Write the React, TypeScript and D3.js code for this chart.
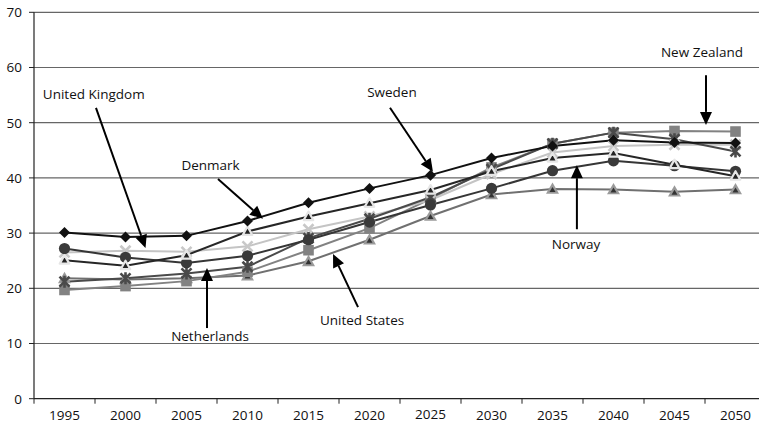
import React from "react";
import * as d3 from "d3";

const years = [1995, 2000, 2005, 2010, 2015, 2020, 2025, 2030, 2035, 2040, 2045, 2050];
const yTicks = [0, 10, 20, 30, 40, 50, 60, 70];

const sweden = [30.1, 29.3, 29.5, 32.2, 35.5, 38.1, 40.5, 43.6, 45.8, 46.8, 46.4, 46.3];
const denmark = [25.1, 24.1, 26.0, 30.3, 33.0, 35.4, 37.8, 41.2, 43.6, 44.5, 42.4, 40.3];
const norway = [27.2, 25.6, 24.6, 25.9, 28.8, 32.0, 35.1, 38.1, 41.3, 43.1, 42.2, 41.2];
const unitedKingdom = [26.5, 26.8, 26.6, 27.6, 30.7, 33.0, 36.0, 40.7, 44.6, 45.8, 46.0, 46.0];
const netherlands = [21.2, 21.8, 22.7, 23.9, 29.1, 32.6, 36.5, 41.6, 46.2, 48.2, 47.0, 44.8];
const newZealand = [19.7, 20.4, 21.3, 23.0, 26.9, 30.9, 36.2, 41.9, 46.2, 48.2, 48.5, 48.4];
const unitedStates = [21.8, 21.6, 21.8, 22.3, 24.9, 28.8, 33.1, 37.0, 38.0, 37.9, 37.5, 37.9];

type Marker = "diamond" | "circle" | "smalltri" | "x" | "asterisk" | "square" | "tri";

const series: { name: string; values: number[]; color: string; marker: Marker }[] = [
  { name: "United States", values: unitedStates, color: "#707070", marker: "tri" },
  { name: "New Zealand", values: newZealand, color: "#828282", marker: "square" },
  { name: "United Kingdom", values: unitedKingdom, color: "#c4c4c4", marker: "x" },
  { name: "Netherlands", values: netherlands, color: "#4a4a4a", marker: "asterisk" },
  { name: "Norway", values: norway, color: "#363636", marker: "circle" },
  { name: "Denmark", values: denmark, color: "#262626", marker: "smalltri" },
  { name: "Sweden", values: sweden, color: "#111111", marker: "diamond" },
];

// annotations in data coordinates: [year, value]
const annotations = [
  { text: "United Kingdom", label: [1997.4, 55.1], tail: [1997.58, 52.7], tip: [2001.64, 27.3] },
  { text: "Denmark", label: [2006.97, 42.3], tail: [2007.58, 39.8], tip: [2011.27, 32.6] },
  { text: "Sweden", label: [2021.84, 55.6], tail: [2021.68, 52.7], tip: [2025.2, 41.1] },
  { text: "New Zealand", label: [2047.25, 62.8], tail: [2047.58, 58.6], tip: [2047.58, 49.6] },
  { text: "Norway", label: [2036.93, 28.0], tail: [2037.0, 30.7], tip: [2037.0, 42.3] },
  { text: "Netherlands", label: [2006.93, 11.4], tail: [2006.68, 12.8], tip: [2006.68, 23.7] },
  { text: "United States", label: [2019.39, 14.3], tail: [2019.06, 16.6], tip: [2017.01, 26.2] },
];

const W = 759;
const H = 426;
const left = 34;
const right = 766;
const top = 12.3;
const bottom = 398.7;
const FONT = "'Open Sans', sans-serif";

function MarkerShape({ type, x, y }: { type: Marker; x: number; y: number }) {
  switch (type) {
    case "diamond": {
      const s = 5.5;
      return <path d={`M${x},${y - s}L${x + s},${y}L${x},${y + s}L${x - s},${y}Z`} fill="#111" />;
    }
    case "circle":
      return <circle cx={x} cy={y} r={5.6} fill="#3a3a3a" />;
    case "smalltri": {
      const s = 5;
      return (
        <path
          d={`M${x},${y - s}L${x + s * 0.95},${y + s * 0.7}L${x - s * 0.95},${y + s * 0.7}Z`}
          fill="#222"
          stroke="#e6e6e6"
          strokeWidth={2.2}
          strokeLinejoin="round"
        />
      );
    }
    case "x": {
      const s = 5;
      return (
        <path
          d={`M${x - s},${y - s}L${x + s},${y + s}M${x - s},${y + s}L${x + s},${y - s}`}
          stroke="#c8c8c8"
          strokeWidth={2.6}
        />
      );
    }
    case "asterisk": {
      const s = 5;
      return (
        <path
          d={`M${x - s},${y - s}L${x + s},${y + s}M${x - s},${y + s}L${x + s},${y - s}M${x},${y - s - 1}L${x},${y + s + 1}`}
          stroke="#4a4a4a"
          strokeWidth={2.6}
        />
      );
    }
    case "square": {
      const s = 5.3;
      return <rect x={x - s} y={y - s} width={2 * s} height={2 * s} fill="#828282" />;
    }
    case "tri": {
      const s = 6.5;
      const t = 3;
      return (
        <g>
          <path d={`M${x},${y - s}L${x + s},${y + s * 0.75}L${x - s},${y + s * 0.75}Z`} fill="#9a9a9a" />
          <path d={`M${x},${y - t + 1}L${x + t},${y + t}L${x - t},${y + t}Z`} fill="#333" />
        </g>
      );
    }
  }
  return null;
}

export default function App() {
  const xBand = d3.scaleBand<number>().domain(years).range([left, right]).padding(0);
  const xc = (yr: number) => (xBand(yr) as number) + xBand.bandwidth() / 2;
  const xLin = d3.scaleLinear().domain([1995, 2050]).range([xc(1995), xc(2050)]);
  const y = d3.scaleLinear().domain([0, 70]).range([bottom, top]);

  const line = d3
    .line<number>()
    .x((_, i) => xc(years[i]))
    .y((v) => y(v));

  const boundaries = years.map((yr) => xBand(yr) as number).concat([right]);

  return (
    <div style={{ position: "absolute", left: 0, top: 0 }}>
      <svg width={W} height={H} style={{ display: "block", background: "#fff" }}>
        {yTicks.map((t) => (
          <g key={t}>
            {t > 0 && (
              <line x1={left} x2={right} y1={y(t)} y2={y(t)} stroke="#666" strokeWidth={1.2} />
            )}
            <line x1={left - 5} x2={left} y1={y(t)} y2={y(t)} stroke="#222" strokeWidth={1} />
            <text
              x={22}
              y={y(t)}
              dy="0.36em"
              textAnchor="end"
              fontFamily={FONT}
              fontSize={13.5}
              fill="#111"
            >
              {t}
            </text>
          </g>
        ))}
        <line x1={left} x2={left} y1={top} y2={bottom} stroke="#222" strokeWidth={1.2} />
        <line x1={left} x2={right} y1={bottom} y2={bottom} stroke="#222" strokeWidth={1.2} />
        {boundaries.map((b, i) => (
          <line key={i} x1={b} x2={b} y1={bottom} y2={bottom + 5} stroke="#222" strokeWidth={1} />
        ))}
        {years.map((yr) => (
          <text
            key={yr}
            x={xc(yr)}
            y={yr === 2025 ? 418.5 : 420}
            textAnchor="middle"
            fontFamily={FONT}
            fontSize={13.5}
            fill="#111"
          >
            {yr}
          </text>
        ))}
        {series.map((s) => (
          <path key={s.name} d={line(s.values) || ""} fill="none" stroke={s.color} strokeWidth={2} />
        ))}
        {series.map((s) => (
          <g key={s.name + "-m"}>
            {s.values.map((v, i) => (
              <MarkerShape key={i} type={s.marker} x={xc(years[i])} y={y(v)} />
            ))}
          </g>
        ))}
        {annotations.map((a) => {
          const tx = xLin(a.tail[0]);
          const ty = y(a.tail[1]);
          const hx = xLin(a.tip[0]);
          const hy = y(a.tip[1]);
          const ang = Math.atan2(hy - ty, hx - tx);
          const len = 13;
          const hw = 6;
          const bx = hx - len * Math.cos(ang);
          const by = hy - len * Math.sin(ang);
          const px = -Math.sin(ang) * hw;
          const py = Math.cos(ang) * hw;
          return (
            <g key={a.text}>
              <line x1={tx} y1={ty} x2={bx} y2={by} stroke="#000" strokeWidth={2} />
              <path d={`M${hx},${hy}L${bx + px},${by + py}L${bx - px},${by - py}Z`} fill="#000" />
              <text
                x={xLin(a.label[0])}
                y={y(a.label[1])}
                dy="0.36em"
                textAnchor="middle"
                fontFamily={FONT}
                fontSize={13.5}
                fill="#111"
              >
                {a.text}
              </text>
            </g>
          );
        })}
      </svg>
    </div>
  );
}
